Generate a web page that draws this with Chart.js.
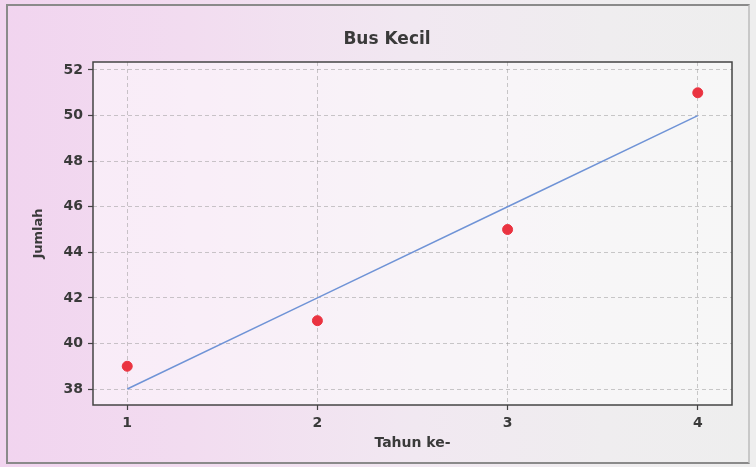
<!DOCTYPE html>
<html lang="id">
<head>
  <meta charset="UTF-8" />
  <title>Bus Kecil</title>
  <script src="https://cdn.jsdelivr.net/npm/chart.js@4.4.1/dist/chart.umd.min.js"></script>
  <style>
    *{margin:0;padding:0;box-sizing:border-box}
    html,body{width:756px;height:467px;overflow:hidden}
    body{background:linear-gradient(90deg,#f1d4ef 0%,#f2dcf0 25%,#f1e8f1 55%,#efedef 80%,#eeeeee 100%);position:relative}
    .frame{position:absolute;left:6px;top:4px;width:744px;height:460px;border:2px solid #8a8a8a;border-right-color:#c8c8c8;pointer-events:none}
    #wrap{position:absolute;left:0;top:0;width:756px;height:467px}
  </style>
</head>
<body>
  <div class="frame"></div>
  <div id="wrap"><canvas id="busChart"></canvas></div>

  <script>
    // data
    const tahun = [1, 2, 3, 4];
    const jumlah = [39, 41, 45, 51];
    const trend = [38, 42, 46, 50];
    const yTicks = [38, 40, 42, 44, 46, 48, 50, 52];

    const ink = '#3a3a3a';
    const font = 'DejaVu Sans';

    // plot background, frame and the figure title
    const decor = {
      id: 'decor',
      beforeDraw(chart) {
        const {ctx, chartArea: a} = chart;
        ctx.save();
        ctx.fillStyle = 'rgba(255,255,255,0.5)';
        ctx.fillRect(a.left, a.top, a.right - a.left, a.bottom - a.top);
        ctx.restore();
      },
      afterDraw(chart) {
        const {ctx, chartArea: a} = chart;
        ctx.save();
        ctx.strokeStyle = '#444';
        ctx.lineWidth = 1.5;
        ctx.strokeRect(a.left, a.top, a.right - a.left, a.bottom - a.top);
        ctx.fillStyle = ink;
        ctx.font = 'bold 17px "' + font + '"';
        ctx.textAlign = 'center';
        ctx.textBaseline = 'middle';
        ctx.fillText('Bus Kecil', 387, 40);
        ctx.restore();
      }
    };

    const gridOpts = {
      color: 'rgba(140,140,140,0.45)',
      lineWidth: 1,
      tickLength: 5,
      tickColor: '#444',
      tickWidth: 1.2,
      tickBorderDash: []
    };

    new Chart(document.getElementById('busChart'), {
      data: {
        datasets: [
          {
            type: 'line',
            label: 'Tren',
            data: tahun.map((t, i) => ({x: t, y: trend[i]})),
            borderColor: '#6f93d6',
            borderWidth: 1.5,
            pointRadius: 0,
            tension: 0,
            order: 2
          },
          {
            type: 'scatter',
            label: 'Jumlah',
            data: tahun.map((t, i) => ({x: t, y: jumlah[i]})),
            backgroundColor: '#ea3340',
            borderColor: '#ea3340',
            pointRadius: 5,
            order: 1
          }
        ]
      },
      options: {
        responsive: true,
        maintainAspectRatio: false,
        animation: false,
        layout: {padding: {left: 0, right: 24, top: 62, bottom: 0}},
        plugins: {legend: {display: false}, tooltip: {enabled: false}},
        scales: {
          x: {
            type: 'linear',
            min: 0.82,
            max: 4.18,
            afterBuildTicks: s => { s.ticks = tahun.map(v => ({value: v})); },
            afterFit: s => { s.height = 62; },
            grid: gridOpts,
            border: {display: false, dash: [4, 3]},
            ticks: {color: ink, padding: 5, font: {family: font, size: 14, weight: 'bold'}},
            title: {display: true, text: 'Tahun ke-', color: ink, padding: {top: 0, bottom: 15},
                    font: {family: font, size: 14, weight: 'bold'}}
          },
          y: {
            min: 37.3,
            max: 52.35,
            afterBuildTicks: s => { s.ticks = yTicks.map(v => ({value: v})); },
            afterFit: s => { s.width = 93; },
            grid: gridOpts,
            border: {display: false, dash: [4, 3]},
            ticks: {color: ink, padding: 5, font: {family: font, size: 14, weight: 'bold'}},
            title: {display: true, text: 'Jumlah', color: ink, padding: {top: 31, bottom: 0},
                    font: {family: font, size: 13, weight: 'bold'}}
          }
        }
      },
      plugins: [decor]
    });
  </script>
</body>
</html>
